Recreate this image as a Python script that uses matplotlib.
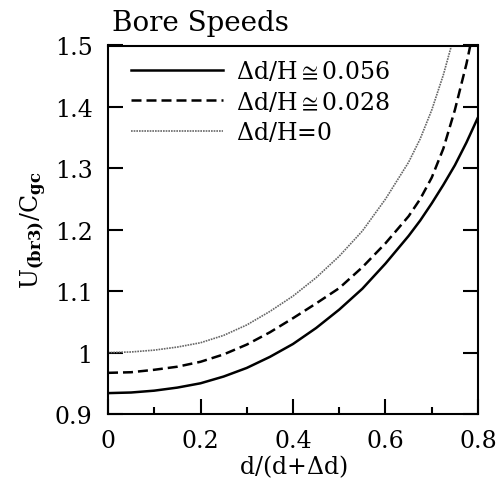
import matplotlib
matplotlib.use('Agg')
import matplotlib.pyplot as plt
from matplotlib.ticker import MultipleLocator

plt.rcParams['font.family'] = 'DejaVu Serif'
plt.rcParams['mathtext.fontset'] = 'dejavuserif'

# values, x = d/(d+Δd)
x_vals = [0.0, 0.05, 0.1, 0.15, 0.2, 0.25, 0.3, 0.35, 0.4, 0.45, 0.5, 0.55, 0.6,
          0.65, 0.675, 0.7, 0.725, 0.75, 0.775, 0.8]
u_056 = [0.934, 0.935, 0.938, 0.943, 0.950, 0.961, 0.975, 0.993, 1.014, 1.040, 1.070, 1.104, 1.145,
         1.190, 1.215, 1.243, 1.273, 1.305, 1.342, 1.383]
u_028 = [0.967, 0.968, 0.972, 0.977, 0.985, 0.997, 1.013, 1.033, 1.056, 1.080, 1.105, 1.139, 1.178,
         1.222, 1.250, 1.285, 1.332, 1.395, 1.470, 1.560]
u_000 = [1.000, 1.001, 1.004, 1.009, 1.016, 1.028, 1.045, 1.067, 1.092, 1.122, 1.157, 1.198, 1.250,
         1.310, 1.348, 1.395, 1.452, 1.520, 1.600, 1.700]

labels = [r'$\Delta$d/H$\cong$0.056', r'$\Delta$d/H$\cong$0.028', r'$\Delta$d/H=0']
yticks = [0.9, 1.0, 1.1, 1.2, 1.3, 1.4, 1.5]
ytick_labels = ['0.9', '1', '1.1', '1.2', '1.3', '1.4', '1.5']
xticks = [0, 0.2, 0.4, 0.6, 0.8]
xtick_labels = ['0', '0.2', '0.4', '0.6', '0.8']

fig = plt.figure(figsize=(5.02, 4.85), dpi=100)
ax = fig.add_axes([108/502, 1 - 415/485, 370/502, 368.5/485])

ax.plot(x_vals, u_056, color='black', lw=1.8, ls='-', label=labels[0])
ax.plot(x_vals, u_028, color='black', lw=1.8, ls=(0, (4, 2)), label=labels[1])
ax.plot(x_vals, u_000, color='0.4', lw=1.2, ls=(0, (1, 0.6)), label=labels[2])

ax.set_xlim(0, 0.8)
ax.set_ylim(0.9, 1.5)
ax.set_xticks(xticks)
ax.set_xticklabels(xtick_labels)
ax.set_yticks(yticks)
ax.set_yticklabels(ytick_labels)
ax.xaxis.set_minor_locator(MultipleLocator(0.1))

ax.tick_params(which='major', direction='in', length=11, width=1.5, labelsize=17,
               right=True, top=False, pad=11)
ax.tick_params(which='minor', direction='in', length=5, width=1.5, right=False, top=False)
for s in ax.spines.values():
    s.set_linewidth(1.5)

ax.set_xlabel(r'd/(d+$\Delta$d)', fontsize=17, labelpad=0)
ax.set_ylabel(r'U$_{\mathbf{(br3)}}$/C$_{\mathbf{gc}}$', fontsize=17, labelpad=4)
ax.set_title('Bore Speeds', loc='left', x=0.011, fontsize=20, pad=11)

ax.legend(loc='upper left', bbox_to_anchor=(23/370, 0.963), frameon=False, fontsize=17,
          handlelength=3.9, handletextpad=0.55, labelspacing=0.28, borderaxespad=0, borderpad=0)

fig.savefig('out.png', dpi=100)
